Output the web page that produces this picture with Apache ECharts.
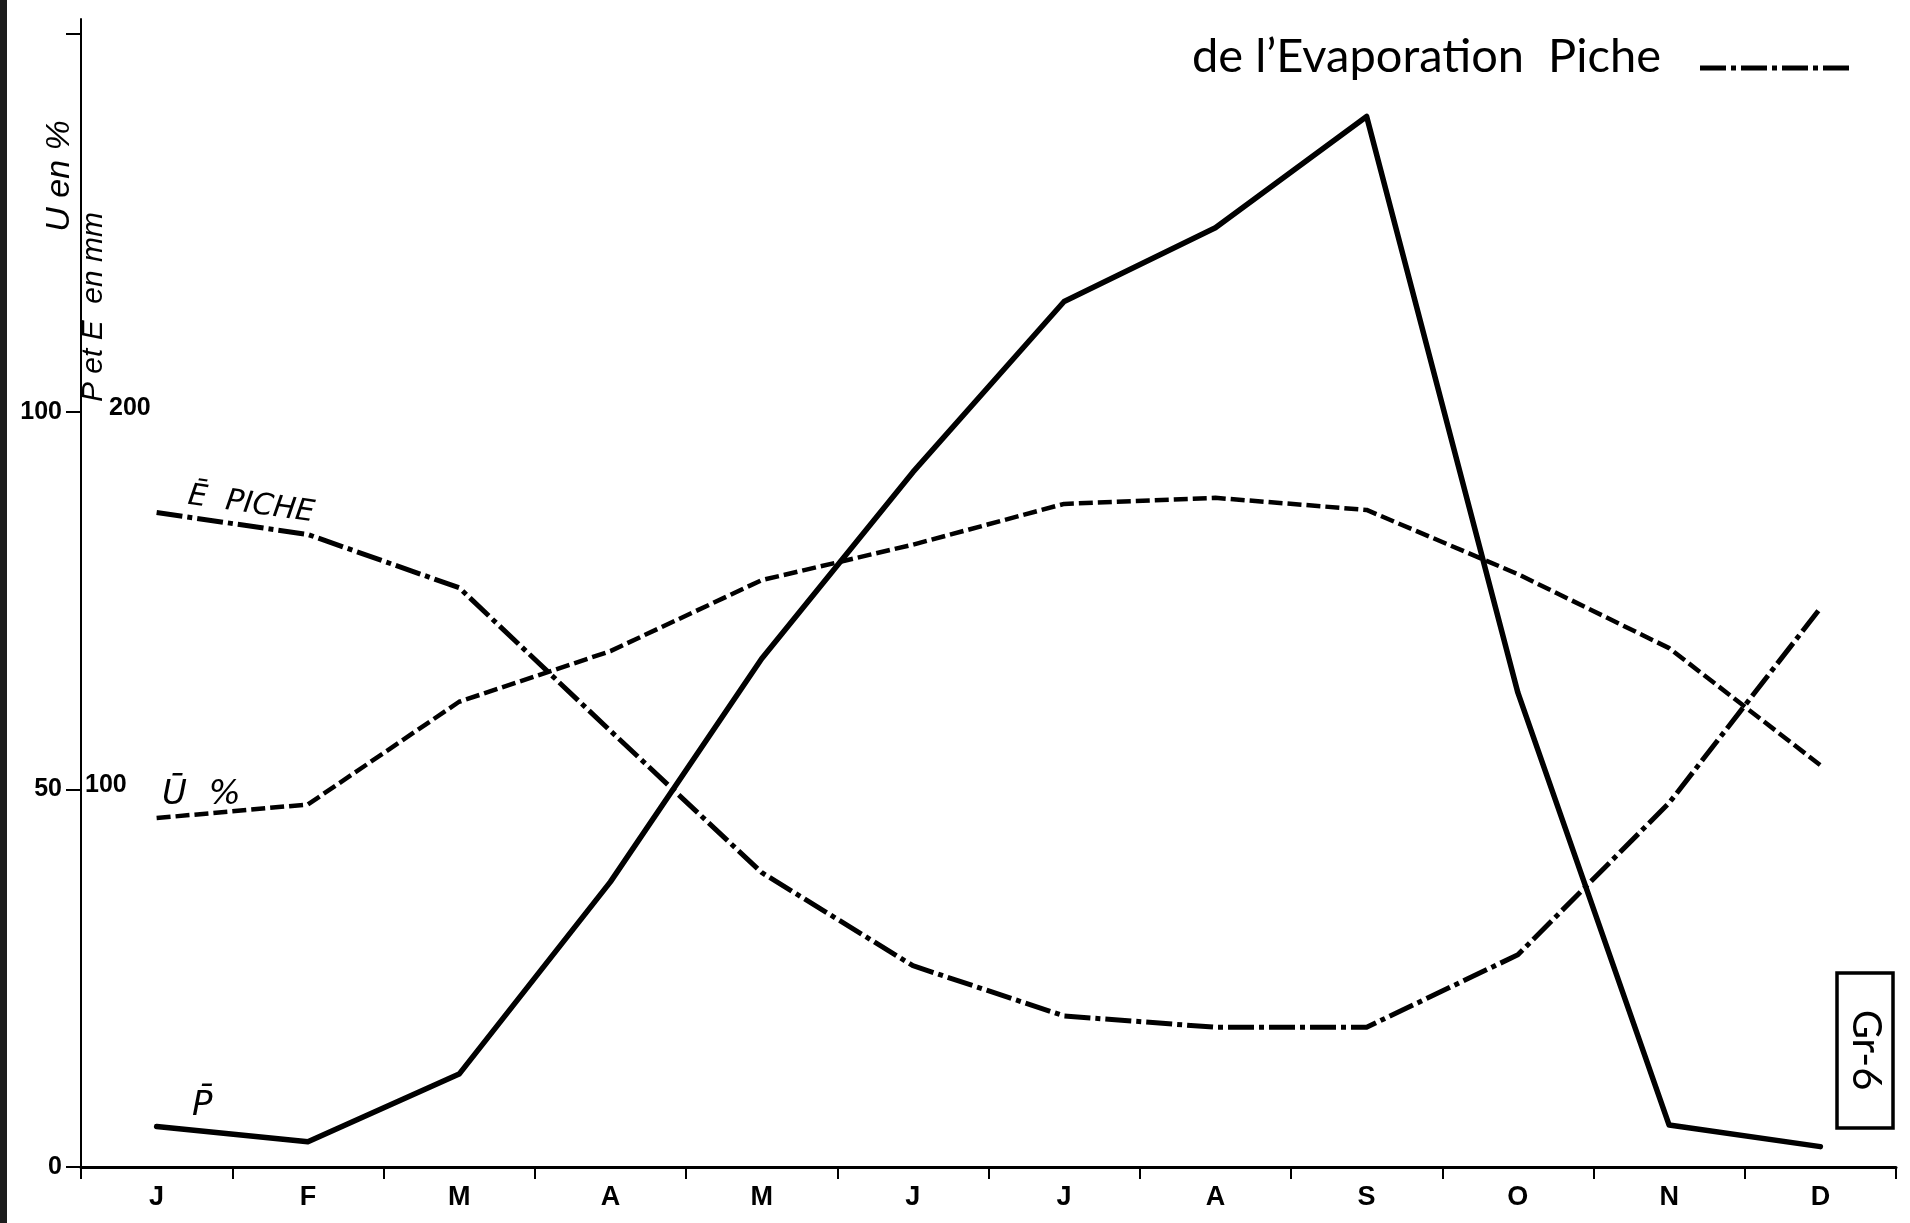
<!DOCTYPE html>
<html>
<head>
<meta charset="utf-8">
<title>Gr-6</title>
<script src="https://cdn.jsdelivr.net/npm/echarts@6/dist/echarts.min.js"></script>
<style>
  html, body { margin: 0; padding: 0; background: #fff; }
  #chart { width: 1910px; height: 1223px; }
</style>
</head>
<body>
<div id="chart"></div>
<script>
// Months, January to December
const months = ['J', 'F', 'M', 'A', 'M', 'J', 'J', 'A', 'S', 'O', 'N', 'D'];

// Mean monthly precipitation P (mm)
const precipMm = [10.7, 6.7, 24.6, 75.5, 134.6, 184, 229.2, 248.7, 278.2, 125.6, 11.1, 5.4];

// Mean relative humidity U (%)
const humidityPct = [46.2, 48, 61.6, 68.3, 77.7, 82.4, 87.8, 88.6, 87, 78.5, 68.7, 53.2];

// Mean Piche evaporation E (mm)
const evapMm = [173.3, 167.5, 153.4, 115.5, 78, 53.3, 40, 37, 37, 56.2, 96.4, 148];

// Tick positions on the two scales (U in %, P and E in mm = 2 x %)
const pctTicks = [0, 50, 100, 150];
const pctLabels = [0, 50, 100];
const mmLabels = [100, 200];

const INK = '#000';
const monthFont = '"Liberation Sans Narrow", "Liberation Sans", sans-serif';
const numberFont = '"Liberation Sans", sans-serif';

const chart = echarts.init(document.getElementById('chart'), null, { renderer: 'canvas' });

const lineBase = { type: 'line', symbol: 'none', smooth: false, animation: false };

chart.setOption({
  backgroundColor: '#fff',
  animation: false,
  grid: { left: 81, right: 14, top: 19, bottom: 56, containLabel: false },
  xAxis: {
    type: 'category',
    data: months,
    boundaryGap: true,
    axisLine: { lineStyle: { color: INK, width: 3 } },
    axisTick: { show: true, length: 12, lineStyle: { color: INK, width: 2 } },
    axisLabel: { color: INK, fontFamily: monthFont, fontWeight: 'bold', fontSize: 27, margin: 17 },
    splitLine: { show: false }
  },
  yAxis: [
    {
      type: 'value', min: 0, max: 152, position: 'left',
      axisLine: { show: true, lineStyle: { color: INK, width: 2 } },
      axisTick: { show: true, inside: false, length: 15, customValues: pctTicks, lineStyle: { color: INK, width: 2 } },
      axisLabel: {
        customValues: pctLabels, color: INK, fontFamily: numberFont, fontWeight: 'bold',
        fontSize: 25, margin: 19, padding: [0, 0, 8, 0]
      },
      splitLine: { show: false }
    },
    {
      type: 'value', min: 0, max: 304, position: 'left',
      axisLine: { show: false },
      axisTick: { show: false },
      axisLabel: {
        inside: true, customValues: mmLabels, margin: 4,
        formatter: v => v === 200 ? '{far|200}' : '{near|' + v + '}',
        rich: {
          near: { color: INK, fontFamily: numberFont, fontWeight: 'bold', fontSize: 25, padding: [0, 0, 8, 0] },
          far: { color: INK, fontFamily: numberFont, fontWeight: 'bold', fontSize: 25, padding: [0, 0, 8, 24] }
        }
      },
      splitLine: { show: false }
    }
  ],
  series: [
    Object.assign({}, lineBase, {
      name: 'P', yAxisIndex: 1, data: precipMm,
      lineStyle: { color: INK, width: 5.5, type: 'solid', cap: 'round', join: 'round' }
    }),
    Object.assign({}, lineBase, {
      name: 'U', yAxisIndex: 0, data: humidityPct,
      lineStyle: { color: INK, width: 4.5, type: [14, 5], cap: 'butt', join: 'round' }
    }),
    Object.assign({}, lineBase, {
      name: 'E Piche', yAxisIndex: 1, data: evapMm,
      lineStyle: { color: INK, width: 5, type: [26, 5, 5, 5], cap: 'butt', join: 'round' }
    })
  ],
  graphic: [
    // dark page edge on the left
    { type: 'rect', shape: { x: 0, y: 0, width: 7, height: 1223 }, style: { fill: '#1c1c1c' }, silent: true },
    // key for the evaporation curve
    {
      type: 'text', x: 1192, y: 57,
      style: { text: 'de l\u2019Evaporation  Piche', font: '47px Lato', fill: INK, textAlign: 'left', textVerticalAlign: 'middle' }
    },
    {
      type: 'line', shape: { x1: 1700, y1: 68, x2: 1853, y2: 68 },
      style: { stroke: INK, lineWidth: 5, lineDash: [26, 5, 5, 5] }
    },
    // axis titles
    {
      type: 'text', x: 60, y: 176, rotation: Math.PI / 2,
      style: { text: 'U en %', font: 'italic 34px "Liberation Sans"', fill: INK, textAlign: 'center', textVerticalAlign: 'middle' }
    },
    {
      type: 'text', x: 94, y: 307, rotation: Math.PI / 2,
      style: { text: 'P et E  en mm', font: 'italic 30px "Liberation Sans"', fill: INK, textAlign: 'center', textVerticalAlign: 'middle' }
    },
    // curve names
    {
      type: 'text', x: 188, y: 496, rotation: -0.14,
      style: { text: '\u0112  PICHE', font: 'italic 30px "DejaVu Sans"', fill: INK, textAlign: 'left', textVerticalAlign: 'middle' }
    },
    {
      type: 'text', x: 162, y: 795,
      style: { text: '\u016A  %', font: 'italic 34px "DejaVu Sans"', fill: INK, textAlign: 'left', textVerticalAlign: 'middle' }
    },
    {
      type: 'text', x: 192, y: 1106,
      style: { text: 'P\u0304', font: 'italic 34px "DejaVu Sans"', fill: INK, textAlign: 'left', textVerticalAlign: 'middle' }
    },
    // figure number
    {
      type: 'rect', shape: { x: 1837, y: 973, width: 56, height: 155 },
      style: { stroke: INK, lineWidth: 3.5, fill: 'rgba(0,0,0,0)' }
    },
    {
      type: 'text', x: 1866, y: 1050, rotation: -Math.PI / 2,
      style: { text: 'Gr-6', font: '40px Lato', fill: INK, textAlign: 'center', textVerticalAlign: 'middle' }
    }
  ]
});
</script>
</body>
</html>
